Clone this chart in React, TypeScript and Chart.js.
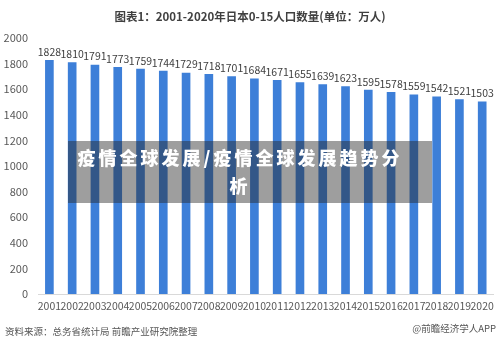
import React, { useEffect, useRef } from "react";
import { Chart, registerables } from "chart.js";

Chart.register(...registerables);

const years = [
  "2001", "2002", "2003", "2004", "2005", "2006", "2007", "2008", "2009", "2010",
  "2011", "2012", "2013", "2014", "2015", "2016", "2017", "2018", "2019", "2020",
];
const population = [
  1828, 1810, 1791, 1773, 1759, 1744, 1729, 1718, 1701, 1684,
  1671, 1655, 1639, 1623, 1595, 1578, 1559, 1542, 1521, 1503,
];
const yTicks = [0, 200, 400, 600, 800, 1000, 1200, 1400, 1600, 1800, 2000];

const titleText = "图表1：2001-2020年日本0-15人口数量(单位：万人)";
const sourceText = "资料来源：总务省统计局 前瞻产业研究院整理";
const brandText = "@前瞻经济学人APP";
const bannerText = "疫情全球发展/疫情全球发展趋势分析";

const FONT = "'Microsoft YaHei', 'Noto Sans CJK SC', 'Noto Sans', sans-serif";

// Writes each bar's value just above it.
const valueLabels = {
  id: "valueLabels",
  afterDatasetsDraw(chart: any) {
    const ctx = chart.ctx;
    const meta = chart.getDatasetMeta(0);
    const data = chart.data.datasets[0].data as number[];
    ctx.save();
    ctx.font = `10.5px ${FONT}`;
    ctx.fillStyle = "#404040";
    ctx.textAlign = "center";
    ctx.textBaseline = "bottom";
    meta.data.forEach((bar: any, i: number) => {
      ctx.fillText(String(data[i]), bar.x, bar.y - 3);
    });
    ctx.restore();
  },
};

export default function App() {
  const canvasRef = useRef<HTMLCanvasElement | null>(null);

  useEffect(() => {
    if (!canvasRef.current) return;
    const chart = new Chart(canvasRef.current, {
      type: "bar",
      data: {
        labels: years,
        datasets: [
          {
            data: population,
            backgroundColor: "#3d7fd8",
            barPercentage: 0.38,
            categoryPercentage: 1,
          },
        ],
      },
      options: {
        animation: false,
        responsive: false,
        maintainAspectRatio: false,
        layout: { padding: { top: 38, right: 6, left: 0, bottom: 0 } },
        plugins: {
          legend: { display: false },
          tooltip: { enabled: false },
          title: { display: false },
        },
        scales: {
          x: {
            grid: { display: false, drawTicks: false },
            border: { display: true, color: "#d9d9d9" },
            ticks: {
              color: "#595959",
              font: { size: 10.5, family: FONT },
              padding: 6,
              maxRotation: 0,
              autoSkip: false,
            },
            afterFit: (s: any) => {
              s.height = 52;
            },
          },
          y: {
            min: 0,
            max: 2000,
            grid: { display: false, drawTicks: false },
            border: { display: false },
            afterBuildTicks: (s: any) => {
              s.ticks = yTicks.map((v) => ({ value: v }));
            },
            ticks: {
              color: "#595959",
              font: { size: 11, family: FONT },
              padding: 10,
              callback: (v: any) => String(v),
            },
            afterFit: (s: any) => {
              s.width = 38;
            },
          },
        },
      },
      plugins: [valueLabels],
    });
    return () => chart.destroy();
  }, []);

  return (
    <div
      style={{
        position: "fixed",
        left: 0,
        top: 0,
        width: 500,
        height: 346,
        background: "#ffffff",
        overflow: "hidden",
        fontFamily: FONT,
      }}
    >
      <canvas
        ref={canvasRef}
        width={500}
        height={346}
        style={{ position: "absolute", left: 0, top: 0, width: 500, height: 346 }}
      />
      <div
        style={{
          position: "absolute",
          left: 0,
          top: 8,
          width: 500,
          textAlign: "center",
          fontSize: 11.5,
          fontWeight: "bold",
          color: "#404040",
          lineHeight: "16px",
        }}
      >
        {titleText}
      </div>
      <div
        style={{
          position: "absolute",
          left: 68,
          top: 141,
          width: 364,
          height: 62,
          boxSizing: "border-box",
          padding: "2px 28px 0 8px",
          background: "rgba(40,40,40,0.45)",
          color: "#ffffff",
          fontWeight: 900,
          fontSize: 18,
          letterSpacing: 3,
          lineHeight: "28px",
          textAlign: "center",
        }}
      >
        {bannerText}
      </div>
      <div
        style={{
          position: "absolute",
          left: 5,
          top: 324,
          fontSize: 9.5,
          color: "#555555",
          lineHeight: "14px",
          whiteSpace: "nowrap",
        }}
      >
        {sourceText}
      </div>
      <div
        style={{
          position: "absolute",
          right: 4,
          top: 321,
          fontSize: 9.5,
          color: "#555555",
          lineHeight: "14px",
          whiteSpace: "nowrap",
        }}
      >
        {brandText}
      </div>
    </div>
  );
}
